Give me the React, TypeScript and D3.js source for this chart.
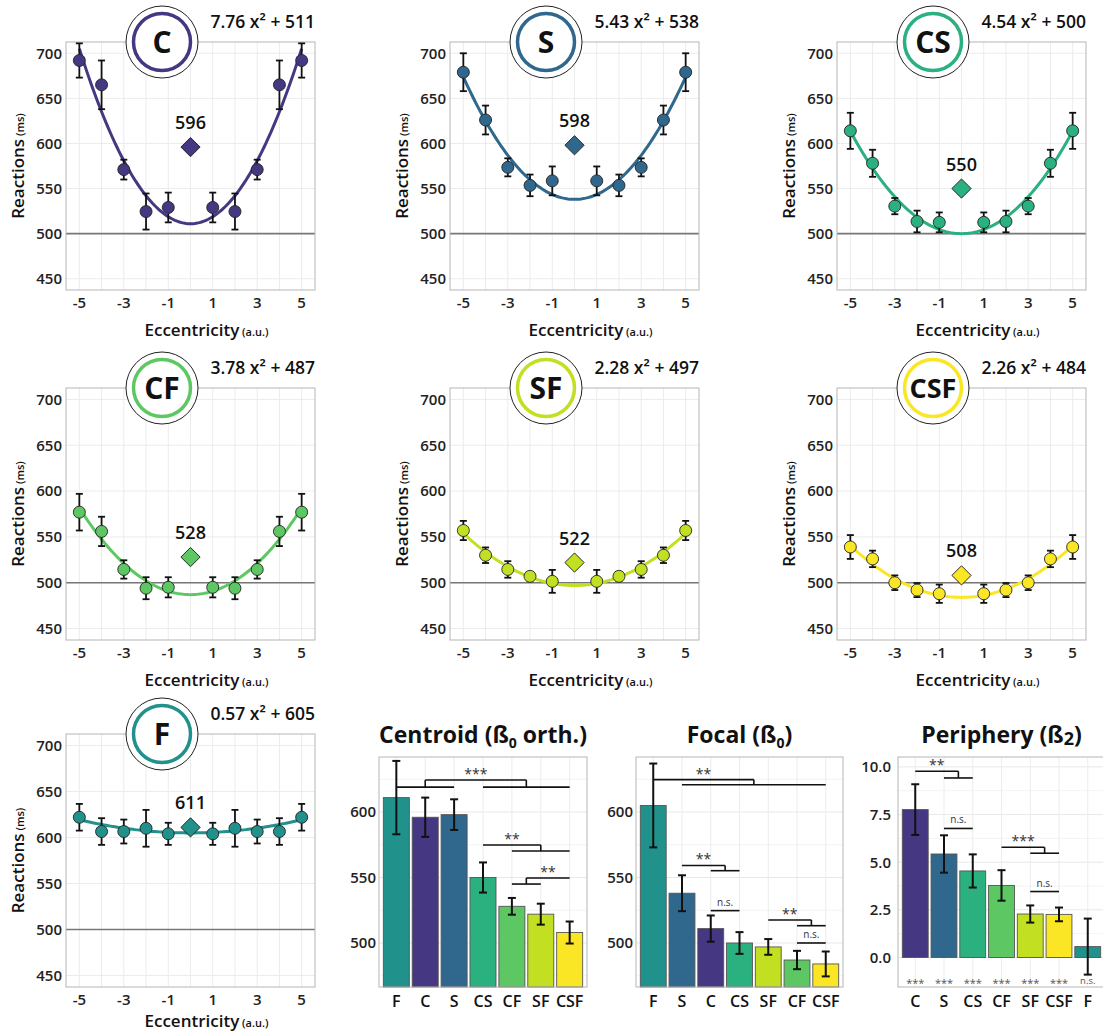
import React, { useEffect, useRef } from 'react';
import * as d3 from 'd3';

// conditions and their colours
const condNames = ['C', 'S', 'CS', 'CF', 'SF', 'CSF', 'F'];
const condColors = ['#453781', '#30678d', '#2bb07f', '#5dc863', '#c3df22', '#fbe626', '#21918c'];

// eccentricity positions (a.u.)
const eccentricity = [-5, -4, -3, -2, -1, 1, 2, 3, 4, 5];

// mean reaction times (ms) and error bars per condition
const rtC = [692, 665, 571, 524.5, 529, 529, 524.5, 571, 665, 692];
const errC = [19, 27, 11, 20, 16.5, 16.5, 20, 11, 27, 19];
const rtS = [679, 626, 573.5, 553.5, 558.5, 558.5, 553.5, 573.5, 626, 679];
const errS = [21, 16, 10, 12, 16, 16, 12, 10, 16, 21];
const rtCS = [614, 578, 530.5, 513.5, 512.5, 512.5, 513.5, 530.5, 578, 614];
const errCS = [20, 15, 9, 12, 11, 11, 12, 9, 15, 20];
const rtCF = [577, 556, 514.5, 494, 495, 495, 494, 514.5, 556, 577];
const errCF = [20, 16, 10, 12, 11, 11, 12, 10, 16, 20];
const rtSF = [557, 530, 514.5, 507, 501.5, 501.5, 507, 514.5, 530, 557];
const errSF = [10.5, 8.5, 9, 4.7, 12.5, 12.5, 4.7, 9, 8.5, 10.5];
const rtCSF = [539, 526, 500, 492, 488, 488, 492, 500, 526, 539];
const errCSF = [13, 9, 8, 7.7, 10, 10, 7.7, 8, 9, 13];
const rtF = [622, 606.5, 606.5, 610, 604, 604, 610, 606.5, 606.5, 622];
const errF = [14.5, 14.5, 13, 20, 12, 12, 20, 13, 14.5, 14.5];

// quadratic fits (a x² + b) and centroid values
const fitSlope = [7.76, 5.43, 4.54, 3.78, 2.28, 2.26, 0.57];
const fitIntercept = [511, 538, 500, 487, 497, 484, 605];
const centroidMean = [596, 598, 550, 528, 522, 508, 611];

const yTicks = [450, 500, 550, 600, 650, 700];
const xTicks = [-5, -3, -1, 1, 3, 5];

// bar charts
const centroidCats = ['F', 'C', 'S', 'CS', 'CF', 'SF', 'CSF'];
const centroidVals = [611, 596, 598, 550, 528, 522, 508];
const centroidErr = [28, 15, 11.7, 11.5, 6.4, 8, 8.4];
// [a0, a1, aY, b0, b1, bY, top, label]
const centroidSig = [
  [0, 2, 619, 3, 6, 619, 624.4, '***'],
  [3, 3, 574.8, 4, 6, 570.2, 574.8, '**'],
  [4, 5, 545, 6, 6, 549.6, 549.6, '**'],
];

const focalCats = ['F', 'S', 'C', 'CS', 'SF', 'CF', 'CSF'];
const focalVals = [605, 538, 511, 500, 497, 487, 484];
const focalErr = [32, 13.7, 10, 8.3, 6, 7, 9.5];
const focalSig = [
  [0, 0, 624.7, 1, 6, 620.8, 624.7, '**'],
  [1, 1, 559.2, 2, 3, 555.2, 559.2, '**'],
  [2, 2, 524.7, 3, 3, 524.7, 524.7, 'n.s.'],
  [4, 4, 517.6, 5, 6, 513.2, 517.6, '**'],
  [5, 5, 500, 6, 6, 500, 500, 'n.s.'],
];

const periCats = ['C', 'S', 'CS', 'CF', 'SF', 'CSF', 'F'];
const periVals = [7.76, 5.43, 4.54, 3.78, 2.28, 2.26, 0.57];
const periErr = [1.33, 0.98, 0.87, 0.8, 0.45, 0.36, 1.47];
const periSig = [
  [0, 0, 9.77, 1, 2, 9.42, 9.77, '**'],
  [1, 1, 6.77, 2, 2, 6.77, 6.77, 'n.s.'],
  [3, 3, 5.78, 4, 5, 5.47, 5.78, '***'],
  [4, 4, 3.46, 5, 5, 3.46, 3.46, 'n.s.'],
];
const periZeroSig = ['***', '***', '***', '***', '***', '***', 'n.s.'];

const W = 1103;
const H = 1036;
const FONT = "'Open Sans', 'Noto Sans', sans-serif";

const colorOf = (name) => condColors[condNames.indexOf(name)];

const App = () => {
  const ref = useRef(null);

  useEffect(() => {
    const svg = d3.select(ref.current);
    svg.selectAll('*').remove();
    svg.style('font-family', FONT);

    const rtAll = [rtC, rtS, rtCS, rtCF, rtSF, rtCSF, rtF];
    const errAll = [errC, errS, errCS, errCF, errSF, errCSF, errF];

    // panel slots: [col, row]
    const slots = [[0, 0], [1, 0], [2, 0], [0, 1], [1, 1], [2, 1], [0, 2]];
    const colLeft = [66, 450, 837];
    const rowTop = [42, 388, 734];
    const rowH = [248, 252, 253];
    const titleOff = [40, 40, 34];
    const pw = 249;

    condNames.forEach((name, k) => {
      const [col, row] = slots[k];
      const left = colLeft[col];
      const top = rowTop[row];
      const h = rowH[row];
      const color = condColors[k];
      const g = svg.append('g');

      const x = d3.scaleLinear().domain([-5.6, 5.6]).range([left, left + pw]);
      const y = d3.scaleLinear().domain([437.5, 712.5]).range([top + h, top]);

      // grid
      d3.range(-5, 6).forEach(v => {
        g.append('line').attr('x1', x(v)).attr('x2', x(v)).attr('y1', top).attr('y2', top + h)
          .attr('stroke', '#ececec').attr('stroke-width', 1);
      });
      yTicks.forEach(v => {
        g.append('line').attr('x1', left).attr('x2', left + pw).attr('y1', y(v)).attr('y2', y(v))
          .attr('stroke', '#ececec').attr('stroke-width', 1);
      });
      // 500 ms reference
      g.append('line').attr('x1', left).attr('x2', left + pw).attr('y1', y(500)).attr('y2', y(500))
        .attr('stroke', '#777').attr('stroke-width', 1.6);
      g.append('rect').attr('x', left).attr('y', top).attr('width', pw).attr('height', h)
        .attr('fill', 'none').attr('stroke', '#b5b5b5').attr('stroke-width', 1);

      // tick labels
      yTicks.forEach(v => {
        g.append('text').attr('x', left - 4).attr('y', y(v)).attr('dy', '0.36em')
          .attr('text-anchor', 'end').style('font-size', '15px').style('font-weight', 600)
          .attr('fill', '#222').text(v);
      });
      xTicks.forEach(v => {
        g.append('text').attr('x', x(v)).attr('y', top + h + 13).attr('dy', '0.36em')
          .attr('text-anchor', 'middle').style('font-size', '15px').style('font-weight', 600)
          .attr('fill', '#222').text(v);
      });

      // axis titles
      const xt = g.append('text').attr('x', left + pw / 2 + 16).attr('y', top + h + titleOff[row])
        .attr('dy', '0.36em').attr('text-anchor', 'middle').attr('fill', '#111').style('font-weight', 600);
      xt.append('tspan').style('font-size', '17px').text('Eccentricity');
      xt.append('tspan').style('font-size', '11px').text(' (a.u.)');
      const yt = g.append('text').attr('transform', `translate(${left - 48},${top + h / 2}) rotate(-90)`)
        .attr('dy', '0.36em').attr('text-anchor', 'middle').attr('fill', '#111').style('font-weight', 600);
      yt.append('tspan').style('font-size', '17px').text('Reactions');
      yt.append('tspan').style('font-size', '11px').text(' (ms)');

      // fitted curve
      const xs = d3.range(-5, 5.0001, 0.1);
      const line = d3.line().x(d => x(d)).y(d => y(fitSlope[k] * d * d + fitIntercept[k]));
      g.append('path').datum(xs).attr('d', line).attr('fill', 'none')
        .attr('stroke', color).attr('stroke-width', 3);

      // error bars and points
      eccentricity.forEach((e, i) => {
        const m = rtAll[k][i];
        const s = errAll[k][i];
        const cx = x(e);
        g.append('line').attr('x1', cx).attr('x2', cx).attr('y1', y(m - s)).attr('y2', y(m + s))
          .attr('stroke', '#111').attr('stroke-width', 1.8);
        [m - s, m + s].forEach(v => {
          g.append('line').attr('x1', cx - 3.5).attr('x2', cx + 3.5).attr('y1', y(v)).attr('y2', y(v))
            .attr('stroke', '#111').attr('stroke-width', 1.8);
        });
      });
      eccentricity.forEach((e, i) => {
        g.append('circle').attr('cx', x(e)).attr('cy', y(rtAll[k][i])).attr('r', 6)
          .attr('fill', color).attr('stroke', '#222').attr('stroke-width', 0.9);
      });

      // centroid diamond
      g.append('path').attr('d', d3.symbol(d3.symbolSquare, 185)())
        .attr('transform', `translate(${x(0)},${y(centroidMean[k])}) rotate(45)`)
        .attr('fill', color).attr('stroke', '#222').attr('stroke-width', 0.9);
      g.append('text').attr('x', x(0)).attr('y', y(centroidMean[k]) - 18)
        .attr('text-anchor', 'middle').style('font-size', '18px').style('font-weight', 600)
        .attr('fill', '#111').text(centroidMean[k]);

      // title badge
      const badge = g.append('g').attr('transform', `translate(${left + 96},${top})`);
      badge.append('circle').attr('r', 36).attr('fill', '#fff').attr('stroke', '#222').attr('stroke-width', 1);
      badge.append('circle').attr('r', 28.5).attr('fill', 'none').attr('stroke', color).attr('stroke-width', 3.5);
      badge.append('text').attr('text-anchor', 'middle').attr('dy', '0.36em')
        .style('font-size', name.length > 2 ? '27px' : '30px').style('font-weight', 700)
        .attr('fill', '#111').text(name);

      // equation
      g.append('text').attr('x', left + pw).attr('y', top - 14).attr('text-anchor', 'end')
        .style('font-size', '17.5px').style('font-weight', 600).attr('fill', '#111')
        .text(`${fitSlope[k].toFixed(2)} x² + ${fitIntercept[k]}`);
    });

    // bar charts
    const drawBars = (opts) => {
      const { left, right, domain, ticks, minor, cats, vals, errs, sig, title, sub, subSize, labelGap, fromZero, fmt } = opts;
      const top = 757;
      const bottom = 987;
      const g = svg.append('g');
      const x = d3.scaleLinear().domain([-0.6, 6.6]).range([left, right]);
      const y = d3.scaleLinear().domain(domain).range([bottom, top]);

      minor.forEach(v => {
        g.append('line').attr('x1', left).attr('x2', right).attr('y1', y(v)).attr('y2', y(v))
          .attr('stroke', '#f3f3f3').attr('stroke-width', 1);
      });
      ticks.forEach(v => {
        g.append('line').attr('x1', left).attr('x2', right).attr('y1', y(v)).attr('y2', y(v))
          .attr('stroke', '#e8e8e8').attr('stroke-width', 1);
      });
      cats.forEach((c, i) => {
        g.append('line').attr('x1', x(i)).attr('x2', x(i)).attr('y1', top).attr('y2', bottom)
          .attr('stroke', '#ececec').attr('stroke-width', 1);
      });

      const base = fromZero ? y(0) : bottom;
      cats.forEach((c, i) => {
        const yv = y(vals[i]);
        g.append('rect').attr('x', x(i - 0.45)).attr('width', x(0.9) - x(0))
          .attr('y', Math.min(yv, base)).attr('height', Math.abs(base - yv))
          .attr('fill', colorOf(c)).attr('stroke', '#555').attr('stroke-width', 0.9);
      });
      cats.forEach((c, i) => {
        const cx = x(i);
        const lo = vals[i] - errs[i];
        const hi = vals[i] + errs[i];
        g.append('line').attr('x1', cx).attr('x2', cx).attr('y1', y(lo)).attr('y2', y(hi))
          .attr('stroke', '#111').attr('stroke-width', 2);
        [lo, hi].forEach(v => {
          g.append('line').attr('x1', cx - 4).attr('x2', cx + 4).attr('y1', y(v)).attr('y2', y(v))
            .attr('stroke', '#111').attr('stroke-width', 2);
        });
      });

      g.append('rect').attr('x', left).attr('y', top).attr('width', right - left).attr('height', bottom - top)
        .attr('fill', 'none').attr('stroke', '#b5b5b5').attr('stroke-width', 1);

      // significance brackets
      const seg = (x1, y1, x2, y2) => g.append('line').attr('x1', x1).attr('x2', x2).attr('y1', y1).attr('y2', y2)
        .attr('stroke', '#111').attr('stroke-width', 1.6);
      sig.forEach(([a0, a1, aY, b0, b1, bY, tp, label]) => {
        const ma = (x(a0) + x(a1)) / 2;
        const mb = (x(b0) + x(b1)) / 2;
        if (a0 !== a1) seg(x(a0), y(aY), x(a1), y(aY));
        if (b0 !== b1) seg(x(b0), y(bY), x(b1), y(bY));
        if (aY !== tp) seg(ma, y(tp), ma, y(aY));
        if (bY !== tp) seg(mb, y(tp), mb, y(bY));
        seg(ma, y(tp), mb, y(tp));
        const isNs = label === 'n.s.';
        g.append('text').attr('x', (ma + mb) / 2).attr('y', y(tp) - (isNs ? 5 : 1))
          .attr('text-anchor', 'middle').style('font-size', isNs ? '10px' : '14px')
          .attr('fill', '#333').text(label);
      });

      ticks.forEach(v => {
        g.append('text').attr('x', left - labelGap).attr('y', y(v)).attr('dy', '0.36em')
          .attr('text-anchor', 'end').style('font-size', '15px').style('font-weight', 600)
          .attr('fill', '#222').text(fmt(v));
      });
      cats.forEach((c, i) => {
        g.append('text').attr('x', x(i)).attr('y', 1001).attr('dy', '0.36em')
          .attr('text-anchor', 'middle').style('font-size', '16px').style('font-weight', 600)
          .attr('fill', '#111').text(c);
      });

      const t = g.append('text').attr('x', (left + right) / 2).attr('y', 743).attr('text-anchor', 'middle')
        .style('font-size', '23px').style('font-weight', 700).attr('fill', '#111');
      t.append('tspan').text(title[0]);
      t.append('tspan').style('font-size', `${subSize}px`).attr('dy', subSize < 17 ? 5 : 2).text(sub);
      t.append('tspan').attr('dy', subSize < 17 ? -5 : -2).text(title[1]);
      return { g, x, y };
    };

    drawBars({
      left: 379, right: 587, domain: [466.4, 642], ticks: [500, 550, 600], minor: [475, 525, 575, 625],
      cats: centroidCats, vals: centroidVals, errs: centroidErr, sig: centroidSig,
      title: ['Centroid (ß', ' orth.)'], sub: '0', subSize: 14, labelGap: 3, fromZero: false, fmt: d => d,
    });
    drawBars({
      left: 636, right: 843, domain: [466.4, 642], ticks: [500, 550, 600], minor: [475, 525, 575, 625],
      cats: focalCats, vals: focalVals, errs: focalErr, sig: focalSig,
      title: ['Focal (ß', ')'], sub: '0', subSize: 14, labelGap: 3, fromZero: false, fmt: d => d,
    });
    const peri = drawBars({
      left: 898, right: 1105, domain: [-1.55, 10.52], ticks: [0, 2.5, 5, 7.5, 10], minor: [1.25, 3.75, 6.25, 8.75],
      cats: periCats, vals: periVals, errs: periErr, sig: periSig,
      title: ['Periphery (ß', ')'], sub: '2', subSize: 18, labelGap: 7, fromZero: true, fmt: d => d.toFixed(1),
    });
    // per-bar significance against zero
    periZeroSig.forEach((s, i) => {
      const isNs = s === 'n.s.';
      peri.g.append('text').attr('x', peri.x(i)).attr('y', isNs ? 984 : 987)
        .attr('text-anchor', 'middle').style('font-size', isNs ? '9.5px' : '11px')
        .attr('fill', '#555').text(s);
    });
  }, []);

  return (
    <svg ref={ref} width={W} height={H} style={{ position: 'absolute', left: 0, top: 0, background: '#fff' }} />
  );
};

export default App;
